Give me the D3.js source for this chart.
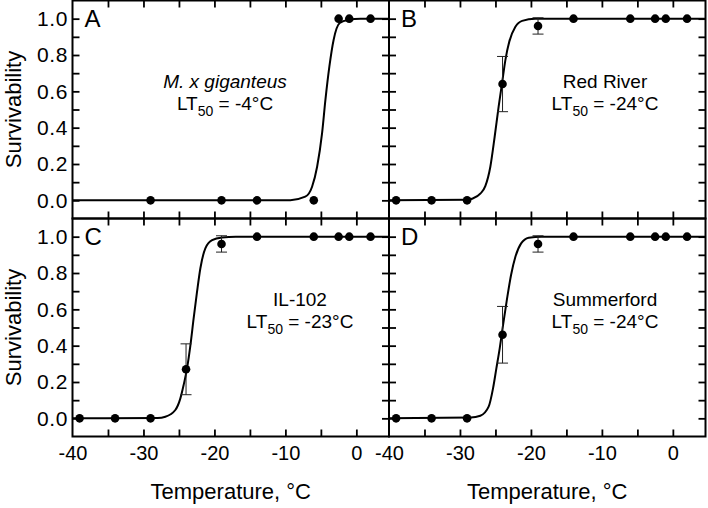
<!DOCTYPE html>
<html>
<head>
<meta charset="utf-8">
<script src="https://cdn.jsdelivr.net/npm/d3@7/dist/d3.min.js"></script>
<style>
  html, body { margin: 0; padding: 0; background: #fff; }
  svg { display: block; }
  text { font-family: "Liberation Sans", Arial, Helvetica, sans-serif; fill: #000; }
</style>
</head>
<body>
<svg id="chart" width="708" height="508"></svg>
<script>
// ---------------- data ----------------
const panelLetters = ["A", "B", "C", "D"];
const cultivars = ["M. x giganteus", "Red River", "IL-102", "Summerford"];
const lt50Labels = ["-4", "-24", "-23", "-24"];

const tempsA = [-29, -19, -14, -6, -2.5, -1, 2];
const survA  = [0, 0, 0, 0, 1, 1, 1];
const errA   = [0, 0, 0, 0, 0, 0, 0];

const temps = [-39, -34, -29, -24, -19, -14, -6, -2.5, -1, 2];
const survB = [0, 0, 0, 0.64, 0.96, 1, 1, 1, 1, 1];
const errB  = [0, 0, 0, 0.152, 0.045, 0, 0, 0, 0, 0];
const survC = [0, 0, 0, 0.27, 0.96, 1, 1, 1, 1, 1];
const errC  = [0, 0, 0, 0.14, 0.045, 0, 0, 0, 0, 0];
const survD = [0, 0, 0, 0.46, 0.96, 1, 1, 1, 1, 1];
const errD  = [0, 0, 0, 0.156, 0.045, 0, 0, 0, 0, 0];

// fitted curves as [temperature, survivability]
const curveA = [[-40,0],[-9.3,0.001],[-7.2,0.02],[-6.24,0.075],[-5.53,0.185],[-4.83,0.37],[-4.36,0.553],[-3.8,0.737],[-3.2,0.884],[-2.35,0.976],[-1.1,0.994],[0.6,1],[4.6,1]];
const curveB = [[-40,0],[-29,0.003],[-28.3,0.009],[-27.1,0.038],[-26.43,0.078],[-25.72,0.185],[-25.11,0.35],[-24.55,0.516],[-24.07,0.645],[-23.6,0.772],[-23.04,0.875],[-22.19,0.955],[-21.24,0.988],[-19.4,0.999],[4.6,1]];
const curveC = [[-40,0],[-28,0.002],[-26.92,0.009],[-25.51,0.046],[-24.8,0.11],[-24.34,0.183],[-23.86,0.275],[-23.39,0.40],[-22.93,0.55],[-22.45,0.697],[-21.98,0.826],[-21.28,0.936],[-20.33,0.981],[-18.93,0.996],[-17,1],[4.6,1]];
const curveD = [[-40,0],[-28.5,0.004],[-27.13,0.014],[-25.96,0.064],[-25.34,0.165],[-24.87,0.275],[-24.4,0.385],[-23.93,0.513],[-23.36,0.66],[-22.8,0.789],[-22.19,0.889],[-21.38,0.963],[-20.31,0.994],[-18.5,1],[4.6,1]];

const xTickLabels = [-40, -30, -20, -10, 0];
const xMinorTicks = [-35, -30, -25, -20, -15, -10, -5, 0];
const yTickLabels = [0, 0.2, 0.4, 0.6, 0.8, 1.0];
const yMinorTicks = [0, 0.1, 0.2, 0.3, 0.4, 0.5, 0.6, 0.7, 0.8, 0.9, 1.0];

const panels = [
  { t: tempsA, s: survA, e: errA, c: curveA },
  { t: temps,  s: survB, e: errB, c: curveB },
  { t: temps,  s: survC, e: errC, c: curveC },
  { t: temps,  s: survD, e: errD, c: curveD }
];

// ---------------- layout ----------------
const leftM = 72.5, topM = 0.5, pw = 316.5, ph = 218;
const textPos = [152.5, 216, 227.5, 216];

const svg = d3.select("#chart");

const x = d3.scaleLinear().domain([-40, 4.6]).range([0, pw]);
const y = d3.scaleLinear().domain([-0.1, 1.1]).range([ph, 0]);

const line = d3.line().x(d => x(d[0])).y(d => y(d[1])).curve(d3.curveMonotoneX);

panels.forEach((p, i) => {
  const col = i % 2, row = Math.floor(i / 2);
  const g = svg.append("g").attr("transform", `translate(${leftM + col * pw},${topM + row * ph})`);

  const tk = 7;
  const axL = g.append("g").call(d3.axisLeft(y).tickValues(yMinorTicks).tickSize(-tk).tickFormat(""));
  const axR = g.append("g").attr("transform", `translate(${pw},0)`).call(d3.axisRight(y).tickValues(yMinorTicks).tickSize(-tk).tickFormat(""));
  const axT = g.append("g").call(d3.axisTop(x).tickValues(xMinorTicks).tickSize(-tk).tickFormat(""));
  const axB = g.append("g").attr("transform", `translate(0,${ph})`).call(d3.axisBottom(x).tickValues(xMinorTicks).tickSize(-tk).tickFormat(""));
  [axL, axR, axT, axB].forEach(a => {
    a.select(".domain").remove();
    a.selectAll(".tick line").attr("stroke", "#000").attr("stroke-width", 1.8);
  });

  if (col === 0) {
    const la = g.append("g").call(d3.axisLeft(y).tickValues(yTickLabels).tickSize(0).tickPadding(4.5).tickFormat(d3.format(".1f")));
    la.select(".domain").remove();
    la.selectAll("text").style("font-size", "21px").style("letter-spacing", "0.6px").attr("fill", "#000");
    g.append("text")
      .attr("transform", `translate(${21 - leftM},${ph / 2}) rotate(-90)`)
      .attr("text-anchor", "middle")
      .style("font-size", "22px")
      .text("Survivability");
  }
  if (row === 1) {
    const lb = g.append("g").attr("transform", `translate(0,${ph})`)
      .call(d3.axisBottom(x).tickValues(xTickLabels).tickSize(0).tickPadding(9).tickFormat(d => String(d)));
    lb.select(".domain").remove();
    lb.selectAll("text").style("font-size", "20px").attr("fill", "#000");
    g.append("text")
      .attr("x", pw / 2).attr("y", ph + 62.5)
      .attr("text-anchor", "middle")
      .style("font-size", "22px")
      .text("Temperature, \u00B0C");
  }

  g.append("rect").attr("x", 0).attr("y", 0).attr("width", pw).attr("height", ph)
    .attr("fill", "none").attr("stroke", "#000").attr("stroke-width", 2);

  g.append("path").datum(p.c).attr("d", line)
    .attr("fill", "none").attr("stroke", "#000").attr("stroke-width", 2);

  const pts = p.t.map((t, k) => ({ t: t, s: p.s[k], e: p.e[k] }));
  const eb = g.append("g").selectAll("g").data(pts.filter(d => d.e > 0)).join("g");
  const cap = 5.5;
  eb.append("line").attr("x1", d => x(d.t)).attr("x2", d => x(d.t))
    .attr("y1", d => y(d.s - d.e)).attr("y2", d => y(d.s + d.e))
    .attr("stroke", "#222").attr("stroke-width", 1);
  eb.append("line").attr("x1", d => x(d.t) - cap).attr("x2", d => x(d.t) + cap)
    .attr("y1", d => y(d.s - d.e)).attr("y2", d => y(d.s - d.e))
    .attr("stroke", "#222").attr("stroke-width", 1);
  eb.append("line").attr("x1", d => x(d.t) - cap).attr("x2", d => x(d.t) + cap)
    .attr("y1", d => y(d.s + d.e)).attr("y2", d => y(d.s + d.e))
    .attr("stroke", "#222").attr("stroke-width", 1);

  g.append("g").selectAll("circle").data(pts).join("circle")
    .attr("cx", d => x(d.t)).attr("cy", d => y(d.s)).attr("r", 4.3).attr("fill", "#000");

  g.append("text").attr("x", 12).attr("y", 26).style("font-size", "24px").text(panelLetters[i]);

  const cx = textPos[i];
  g.append("text").attr("x", cx).attr("y", 87.5).attr("text-anchor", "middle")
    .style("font-size", "19px").style("font-style", i === 0 ? "italic" : "normal")
    .text(cultivars[i]);
  const t2 = g.append("text").attr("x", cx).attr("y", 109.5).attr("text-anchor", "middle").style("font-size", "19px");
  t2.append("tspan").text("LT");
  t2.append("tspan").attr("dy", 6).style("font-size", "14px").text("50");
  t2.append("tspan").attr("dy", -6).text(" = " + lt50Labels[i] + "\u00B0C");
});
</script>
</body>
</html>
